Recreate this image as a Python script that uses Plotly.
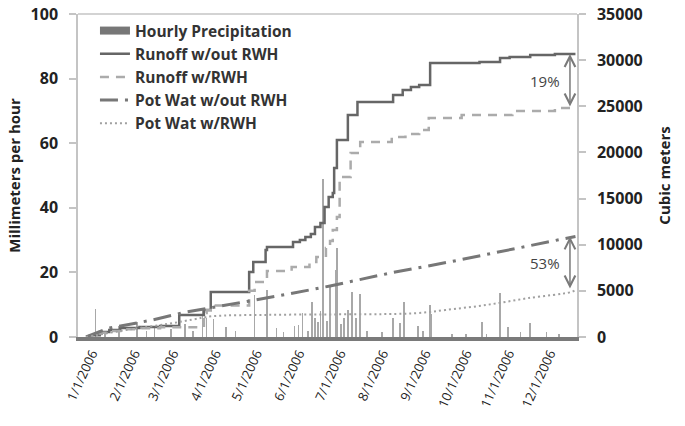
import plotly.graph_objects as go

# ---------------- data ----------------
# Hourly precipitation spikes (mm/hour), left axis
precip_dates = ["2006-01-08", "2006-01-15", "2006-01-25", "2006-02-07", "2006-02-14", "2006-02-20",
                "2006-03-04", "2006-03-14", "2006-03-20", "2006-03-27", "2006-03-30", "2006-04-04",
                "2006-04-13", "2006-04-20", "2006-05-04", "2006-05-13", "2006-05-20", "2006-05-25",
                "2006-06-02", "2006-06-05", "2006-06-08", "2006-06-12", "2006-06-15", "2006-06-17",
                "2006-06-19", "2006-06-21", "2006-06-23", "2006-06-26", "2006-06-28", "2006-07-02",
                "2006-07-03", "2006-07-06", "2006-07-08", "2006-07-11", "2006-07-14", "2006-07-17",
                "2006-07-20", "2006-07-25", "2006-08-05", "2006-08-13", "2006-08-18", "2006-08-21",
                "2006-08-31", "2006-09-04", "2006-09-09", "2006-09-10", "2006-09-25", "2006-10-05",
                "2006-10-17", "2006-10-20", "2006-10-30", "2006-11-05", "2006-11-14", "2006-11-21",
                "2006-12-03", "2006-12-12"]
precip_mm = [8.7, 1.5, 3.5, 4.5, 2.0, 3.0,
             2.5, 4.0, 2.0, 9.0, 6.0, 5.5,
             3.0, 2.0, 13.0, 14.5, 2.8, 1.5,
             3.4, 3.7, 7.4, 2.0, 10.8, 6.0,
             4.6, 8.0, 49.0, 5.0, 15.5, 20.7,
             27.5, 4.0, 6.0, 8.4, 14.0, 6.0,
             13.3, 2.0, 1.5, 6.0, 4.3, 10.8,
             3.5, 2.0, 10.0, 7.0, 1.0, 1.0,
             4.6, 1.0, 13.6, 3.2, 1.5, 4.3,
             1.5, 1.0]

# Runoff without RWH (cubic meters), step series
runoff_wo_dates = ["2006-01-01", "2006-01-04", "2006-01-11", "2006-01-18", "2006-01-26", "2006-02-09",
                   "2006-02-24", "2006-03-10", "2006-03-28", "2006-04-02", "2006-04-30", "2006-05-03",
                   "2006-05-12", "2006-05-13", "2006-06-01", "2006-06-06", "2006-06-10", "2006-06-14",
                   "2006-06-17", "2006-06-21", "2006-06-24", "2006-06-27", "2006-06-30", "2006-07-01",
                   "2006-07-03", "2006-07-11", "2006-07-18", "2006-08-13", "2006-08-20", "2006-08-26",
                   "2006-09-01", "2006-09-09", "2006-10-15", "2006-10-30", "2006-11-06", "2006-11-21",
                   "2006-12-09", "2006-12-24"]
runoff_wo = [0, 200, 540, 760, 975, 1080,
             1190, 2385, 2925, 4875, 7045, 8130,
             9430, 9750, 10290, 10510, 10836, 11160,
             11920, 12350, 14080, 15170, 15600, 18310,
             21350, 24055, 25465, 26220, 26765, 27090,
             27310, 29690, 29800, 30230, 30340, 30560,
             30670, 30670]

# Runoff with RWH (cubic meters), step series
runoff_w_dates = ["2006-01-01", "2006-01-04", "2006-01-11", "2006-01-18", "2006-01-26", "2006-02-09",
                  "2006-02-24", "2006-03-28", "2006-03-30", "2006-04-02", "2006-04-30", "2006-05-04",
                  "2006-05-13", "2006-05-31", "2006-06-13", "2006-06-18", "2006-06-25", "2006-06-28",
                  "2006-06-30", "2006-07-03", "2006-07-05", "2006-07-13", "2006-07-20", "2006-08-12",
                  "2006-08-22", "2006-09-01", "2006-09-08", "2006-10-02", "2006-11-08", "2006-12-09",
                  "2006-12-24"]
runoff_w = [0, 150, 450, 650, 850, 950,
            1050, 2600, 2900, 3400, 5000, 5960,
            7150, 7585, 8130, 8670, 9650, 10400,
            11600, 13000, 17340, 19940, 21130, 21670,
            22000, 22430, 23730, 24055, 24490, 24815,
            24815]

# Potable water without RWH (cubic meters)
potwat_wo_dates = ["2006-01-01", "2006-01-18", "2006-02-17", "2006-03-15", "2006-04-01", "2006-04-26",
                   "2006-05-29", "2006-06-28", "2006-08-11", "2006-09-23", "2006-11-08", "2006-12-21",
                   "2006-12-24"]
potwat_wo = [0, 975, 1800, 2700, 3140, 3790,
             4660, 5530, 6935, 8130, 9535, 10836,
             10900]

# Potable water with RWH (cubic meters)
potwat_w_dates = ["2006-01-01", "2006-02-01", "2006-03-01", "2006-03-20", "2006-04-03", "2006-05-15",
                  "2006-07-01", "2006-08-15", "2006-09-01", "2006-09-20", "2006-10-20", "2006-11-20",
                  "2006-12-21", "2006-12-24"]
potwat_w = [0, 800, 1400, 1900, 2250, 2400,
            2450, 2500, 2600, 2925, 3470, 4225,
            4875, 5090]

month_ticks = ["2006-%02d-01" % m for m in range(1, 13)]
arrow_date = "2006-12-20"
label_date = "2006-12-02"

FONT = "Open Sans"

fig = go.Figure()

fig.add_trace(go.Bar(x=precip_dates, y=precip_mm, width=86400000 * 0.45,
                     marker=dict(color="#a8a8a8", line=dict(width=0)),
                     showlegend=False, yaxis="y", hoverinfo="skip"))

# legend entry for precipitation (wide bar symbol)
fig.add_trace(go.Scatter(x=[None], y=[None], mode="lines", name="Hourly Precipitation",
                         line=dict(color="#777777", width=8), legendgroup="g0"))

fig.add_trace(go.Scatter(x=runoff_wo_dates, y=runoff_wo, mode="lines", name="Runoff w/out RWH",
                         line=dict(color="#666666", width=2.5, shape="hv"), yaxis="y2", legendgroup="g1"))
fig.add_trace(go.Scatter(x=runoff_w_dates, y=runoff_w, mode="lines", name="Runoff w/RWH",
                         line=dict(color="#ababab", width=2.5, shape="hv", dash="9px,7px"),
                         yaxis="y2", legendgroup="g2"))
fig.add_trace(go.Scatter(x=potwat_wo_dates, y=potwat_wo, mode="lines", name="Pot Wat w/out RWH",
                         line=dict(color="#777777", width=3, dash="18px,7px,3px,7px"),
                         yaxis="y2", legendgroup="g3"))
fig.add_trace(go.Scatter(x=potwat_w_dates, y=potwat_w, mode="lines", name="Pot Wat w/RWH",
                         line=dict(color="#a0a0a0", width=2, dash="2px,3px", shape="spline"),
                         yaxis="y2", legendgroup="g4"))

arrow_style = dict(showarrow=True, arrowhead=5, startarrowhead=5, arrowside="end+start",
                   arrowsize=1.4, startarrowsize=1.4, arrowwidth=1.5, arrowcolor="#7a7a7a",
                   text="", xref="x", yref="y2", axref="x", ayref="y2", standoff=0, startstandoff=0)

fig.add_annotation(x=arrow_date, y=runoff_wo[-1], ax=arrow_date, ay=runoff_w[-1], **arrow_style)
fig.add_annotation(x=arrow_date, y=potwat_wo[-1], ax=arrow_date, ay=potwat_w[-1], **arrow_style)
fig.add_annotation(x=label_date, y=(runoff_wo[-1] + runoff_w[-1]) / 2, text="19%", showarrow=False,
                   xref="x", yref="y2", font=dict(family=FONT, size=15, color="#444444"))
fig.add_annotation(x=label_date, y=(potwat_wo[-1] + potwat_w[-1]) / 2, text="53%", showarrow=False,
                   xref="x", yref="y2", font=dict(family=FONT, size=15, color="#444444"))

fig.add_shape(type="line", xref="paper", yref="paper", x0=0, x1=1, y0=1, y1=1,
              line=dict(color="#c4c4c4", width=1.5))

fig.update_layout(
    width=685, height=426,
    margin=dict(l=78, r=108, t=14, b=89),
    paper_bgcolor="white", plot_bgcolor="white",
    font=dict(family=FONT, color="#222222"),
    bargap=0,
    showlegend=True,
    legend=dict(x=0.034, y=1.0, xanchor="left", yanchor="top", bgcolor="rgba(0,0,0,0)",
                font=dict(family=FONT, size=15.5, color="#333333", weight="bold"),
                tracegroupgap=3, traceorder="normal"),
    xaxis=dict(type="date", range=["2005-12-26 04:00", "2006-12-25 03:00"], automargin=False,
               tickvals=month_ticks, tickformat="%-m/%-d/%Y", tickangle=-65, ticklabelshift=6,
               tickfont=dict(family=FONT, size=13, color="#222222"),
               showgrid=False, zeroline=False, showline=True, linecolor="#7a7a7a", linewidth=4,
               ticks=""),
    yaxis=dict(range=[0, 100], tickvals=[0, 20, 40, 60, 80, 100], showgrid=False, zeroline=False,
               automargin=False,
               showline=True, linecolor="#c4c4c4", linewidth=1.5, ticks="outside", ticklen=7,
               tickcolor="#c4c4c4", tickwidth=1.5, ticklabelstandoff=8,
               tickfont=dict(family=FONT, size=16, color="#222222", weight="bold"),
               title=dict(text="Millimeters per hour", standoff=6,
                          font=dict(family=FONT, size=15, color="#222222", weight="bold"))),
    yaxis2=dict(range=[0, 35000], tickvals=[0, 5000, 10000, 15000, 20000, 25000, 30000, 35000],
                tickformat="d", automargin=False,
                overlaying="y", side="right", anchor="x", showgrid=False, zeroline=False,
                showline=True, linecolor="#c4c4c4", linewidth=1.5, ticks="outside", ticklen=7,
                tickcolor="#c4c4c4", tickwidth=1.5, ticklabelstandoff=8,
                tickfont=dict(family=FONT, size=16, color="#222222", weight="bold"),
                title=dict(text="Cubic meters", standoff=18,
                           font=dict(family=FONT, size=15, color="#222222", weight="bold"))),
)

fig.write_html("out.html")
